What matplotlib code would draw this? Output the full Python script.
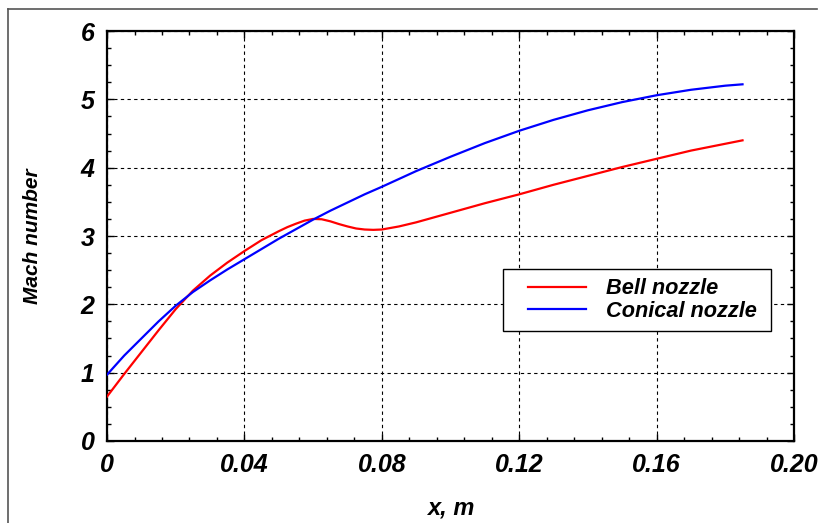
import matplotlib
matplotlib.use("Agg")
import matplotlib.pyplot as plt
from matplotlib.lines import Line2D
from matplotlib.patches import Rectangle
from matplotlib.ticker import MultipleLocator

# Mach number along the nozzle axis
x_bell = [0.0, 0.005, 0.01, 0.015, 0.02, 0.025, 0.03, 0.035, 0.04, 0.045,
          0.05, 0.0525, 0.055, 0.0575, 0.06, 0.0625, 0.065, 0.0675, 0.07,
          0.0725, 0.075, 0.0775, 0.08, 0.085, 0.09, 0.095,
          0.10, 0.11, 0.12, 0.13, 0.14, 0.15, 0.16, 0.17, 0.18, 0.185]
m_bell = [0.65, 0.98, 1.30, 1.62, 1.93, 2.20, 2.42, 2.61, 2.78, 2.94,
          3.07, 3.13, 3.18, 3.225, 3.25, 3.245, 3.215, 3.175, 3.14,
          3.11, 3.095, 3.09, 3.095, 3.14, 3.20, 3.27,
          3.34, 3.48, 3.61, 3.75, 3.88, 4.01, 4.13, 4.25, 4.35, 4.40]

x_cone = [0.0, 0.005, 0.01, 0.015, 0.02, 0.025, 0.03, 0.035, 0.04, 0.045,
          0.05, 0.055, 0.06, 0.065, 0.07, 0.075, 0.08, 0.09, 0.10, 0.11,
          0.12, 0.13, 0.14, 0.15, 0.16, 0.17, 0.18, 0.185]
m_cone = [0.97, 1.25, 1.50, 1.75, 1.98, 2.18, 2.35, 2.51, 2.66, 2.81,
          2.96, 3.10, 3.24, 3.37, 3.49, 3.61, 3.72, 3.95, 4.16, 4.36,
          4.54, 4.70, 4.84, 4.96, 5.06, 5.14, 5.20, 5.22]

series_labels = ["Bell nozzle", "Conical nozzle"]
x_ticks = [0, 0.04, 0.08, 0.12, 0.16, 0.20]
x_ticklabels = ["0", "0.04", "0.08", "0.12", "0.16", "0.20"]

font = dict(family="Liberation Sans", weight="bold", style="italic")

fig = plt.figure(figsize=(8.22, 5.23), dpi=100)
ax = fig.add_axes([0.1302, 0.1568, 0.8358, 0.7839])

ax.plot(x_bell, m_bell, color="#ff0000", lw=1.6, label=series_labels[0], zorder=3)
ax.plot(x_cone, m_cone, color="#0000ff", lw=1.6, label=series_labels[1], zorder=3)

ax.set_xlim(0, 0.20)
ax.set_ylim(0, 6)
ax.set_xticks(x_ticks)
ax.set_xticklabels(x_ticklabels)
ax.xaxis.set_minor_locator(MultipleLocator(0.008))
ax.yaxis.set_major_locator(MultipleLocator(1))
ax.yaxis.set_minor_locator(MultipleLocator(0.25))

ax.tick_params(which="both", direction="in", top=True, right=True, width=1)
ax.tick_params(which="major", length=5, pad=9)
ax.tick_params(which="minor", length=3)
for lab in ax.get_xticklabels() + ax.get_yticklabels():
    lab.set_fontproperties(dict(font, size=18))

for sp in ax.spines.values():
    sp.set_linewidth(1.6)

ax.grid(True, which="major", linestyle=(0, (3, 3)), linewidth=0.8, color="black")

ax.set_xlabel("x, m", fontsize=17, labelpad=14, **font)
ax.set_ylabel("Mach number", fontsize=15, labelpad=28, **font)

# legend box (white, square corners) with entries inside
ax.add_patch(Rectangle((0.576, 0.268), 0.391, 0.152, transform=ax.transAxes,
                       facecolor="white", edgecolor="black", lw=1.0, zorder=4))
leg = ax.legend(loc="center left", bbox_to_anchor=(0.613, 0.344),
                prop=dict(font, size=15.7), frameon=False, handlelength=2.66,
                handletextpad=0.92, borderpad=0, labelspacing=0.05,
                borderaxespad=0)
leg.set_zorder(5)

# outer frame around the figure
fx0, fy0, fx1 = 8 / 822, 1 - 9 / 523, 817 / 822
fig.add_artist(Line2D([fx0, fx0], [0, fy0], color="#555555", lw=1.2))
fig.add_artist(Line2D([fx0, fx1], [fy0, fy0], color="#555555", lw=1.2))

fig.savefig("out.png", dpi=100)
